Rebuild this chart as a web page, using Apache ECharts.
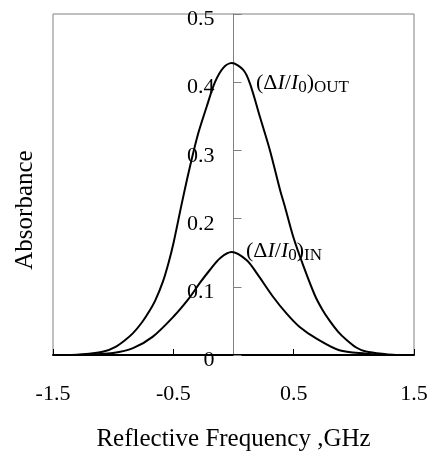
<!DOCTYPE html>
<html>
<head>
<meta charset="utf-8">
<script src="https://cdn.jsdelivr.net/npm/echarts@6/dist/echarts.min.js"></script>
<style>html,body{margin:0;padding:0;background:#fff}#c{width:431px;height:454px}</style>
</head>
<body>
<div id="c"></div>
<script>
var xTicks = [-1.5, -0.5, 0.5, 1.5];
var yTicks = [0, 0.1, 0.2, 0.3, 0.4, 0.5];
var outX = [-1.35, -1.2, -1.08, -0.98, -0.9, -0.835, -0.76, -0.70, -0.65, -0.586, -0.54, -0.50, -0.43, -0.362, -0.293, -0.223, -0.154, -0.085, -0.015, 0.081, 0.137, 0.22, 0.303, 0.387, 0.428, 0.497, 0.58, 0.675, 0.74, 0.80, 0.87, 0.94, 1.02, 1.10, 1.27, 1.35];
var outY = [0, 0.002, 0.005, 0.012, 0.022, 0.032, 0.048, 0.064, 0.080, 0.108, 0.135, 0.163, 0.222, 0.276, 0.325, 0.364, 0.400, 0.421, 0.428, 0.418, 0.398, 0.349, 0.300, 0.242, 0.217, 0.173, 0.131, 0.088, 0.066, 0.050, 0.034, 0.022, 0.011, 0.005, 0.001, 0];
var inX = [-1.25, -1.0, -0.835, -0.67, -0.50, -0.37, -0.278, -0.195, -0.112, -0.015, 0.11, 0.193, 0.33, 0.44, 0.55, 0.69, 0.88, 1.10, 1.25];
var inY = [0, 0.003, 0.010, 0.027, 0.056, 0.083, 0.106, 0.125, 0.142, 0.151, 0.139, 0.120, 0.085, 0.061, 0.041, 0.024, 0.007, 0.002, 0];

function pairs(xs, ys) { return xs.map(function (x, i) { return [x, ys[i]]; }); }

var FONT = '"Liberation Serif", "Times New Roman", serif';
var chart = echarts.init(document.getElementById('c'), null, {renderer: 'canvas'});
var gridLeft = 53, gridRight = 17;
var plotW = 431 - gridLeft - gridRight;
var zeroOffset = -plotW * (0 - xTicks[0]) / (xTicks[xTicks.length - 1] - xTicks[0]);
var sub = {fontFamily: FONT, fontSize: 17, fill: '#000', verticalAlign: 'bottom', padding: [9, 0, 0, 0]};
var rich = {
  n: {fontFamily: FONT, fontSize: 22, fill: '#000'},
  i: {fontFamily: FONT, fontSize: 22, fontStyle: 'italic', fill: '#000'},
  s: sub
};
chart.setOption({
  animation: false,
  backgroundColor: '#fff',
  grid: {left: gridLeft, right: gridRight, top: 14, bottom: 99, show: true, borderColor: '#808080', borderWidth: 1,
    containLabel: false, outerBoundsMode: 'none'},
  xAxis: {
    type: 'value', min: xTicks[0], max: xTicks[xTicks.length - 1], interval: 1,
    axisLine: {onZero: false, lineStyle: {color: '#000', width: 2}},
    axisTick: {inside: true, length: 6, lineStyle: {color: '#000'}},
    axisLabel: {color: '#000', fontFamily: FONT, fontSize: 22, margin: 28,
      formatter: function (v) { return String(v); }},
    splitLine: {show: false},
    name: 'Reflective Frequency ,GHz', nameLocation: 'middle', nameGap: 72,
    nameTextStyle: {color: '#000', fontFamily: FONT, fontSize: 25}
  },
  yAxis: {
    type: 'value', min: 0, max: 0.5, interval: 0.1, offset: zeroOffset,
    axisLine: {show: true, onZero: false, lineStyle: {color: '#808080', width: 1}},
    axisTick: {show: true, inside: true, length: 8, lineStyle: {color: '#808080'}},
    axisLabel: {color: '#000', fontFamily: FONT, fontSize: 22, margin: 19,
      verticalAlign: 'top', lineHeight: 11,
      formatter: function (v) { return v === 0 ? '0' : v.toFixed(1); }},
    splitLine: {show: false}
  },
  series: [{
    type: 'line', data: pairs(outX, outY), smooth: 0.3, symbol: 'none',
    lineStyle: {color: '#000', width: 2}
  }, {
    type: 'line', data: pairs(inX, inY), smooth: 0.3, symbol: 'none',
    lineStyle: {color: '#000', width: 2}
  }],
  graphic: [{
    type: 'text', x: 25, y: 210, rotation: Math.PI / 2,
    style: {text: 'Absorbance', fontFamily: FONT, fontSize: 25, fill: '#000', align: 'center', verticalAlign: 'middle'}
  }, {
    type: 'text', left: 256, top: 72,
    style: {text: '{n|(Δ}{i|I}{n|/}{i|I}{s|0}{n|)}{s|OUT}', rich: rich}
  }, {
    type: 'text', left: 246, top: 240,
    style: {text: '{n|(Δ}{i|I}{n|/}{i|I}{s|0}{n|)}{s|IN}', rich: rich}
  }]
});
</script>
</body>
</html>
